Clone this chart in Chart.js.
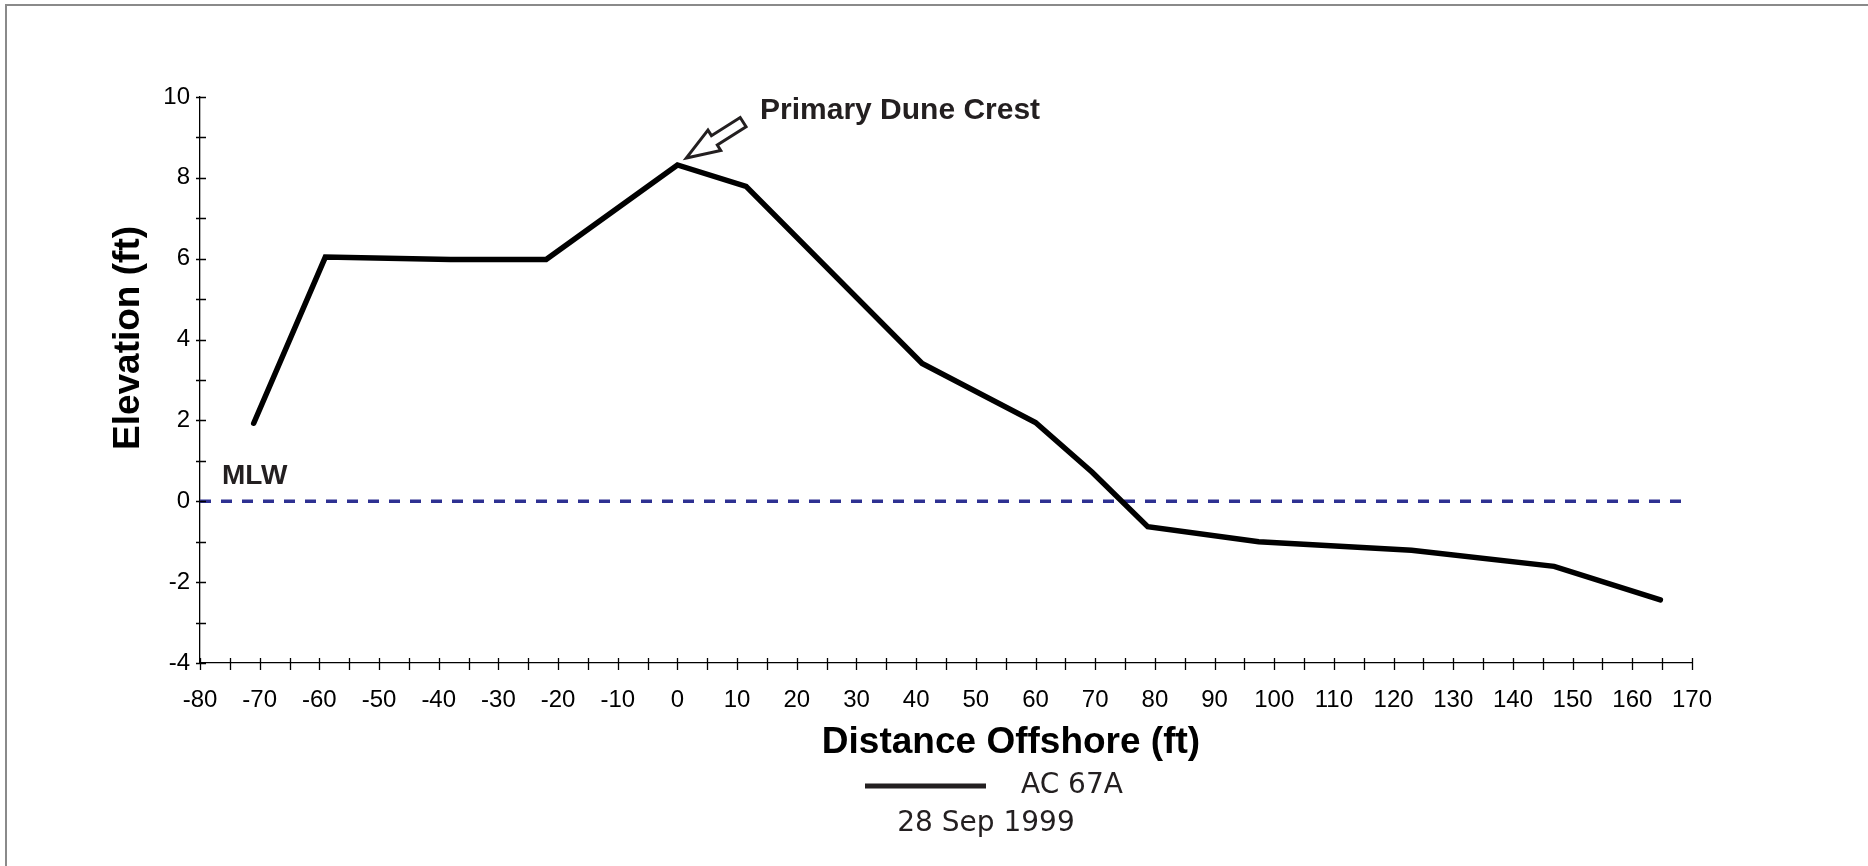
<!DOCTYPE html>
<html>
<head>
<meta charset="utf-8">
<script src="https://cdn.jsdelivr.net/npm/chart.js@4.4.1/dist/chart.umd.min.js"></script>
<style>
  html, body { margin: 0; padding: 0; background: #fff; overflow: hidden; }
  #wrap { width: 1868px; height: 866px; }
</style>
</head>
<body>
<div id="wrap"><canvas id="profileChart" width="1868" height="866"></canvas></div>
<script>
'use strict';

// profile AC 67A, 28 Sep 1999
const distance = [-71, -59, -38, -22, 0, 11.5, 41, 60, 69.5, 78.8, 97.4, 123, 146.9, 164.7]
const elevation = [1.93, 6.04, 5.98, 5.98, 8.32, 7.79, 3.41, 1.95, 0.72, -0.63, -1.0, -1.21, -1.61, -2.44]

// mean low water line
const mlwDistance = [-80, 169]
const mlwElevation = [0, 0]

const xRange = [-80, 170]
const yRange = [-4, 10]
const crestIndex = 4

const ink = '#231f20'
const font = '"Liberation Sans", Arial, sans-serif'
const thinFont = '"DejaVu Sans", sans-serif'

const toPoints = (xs, ys) => xs.map((v, k) => ({ x: v, y: ys[k] }))

// frame, tick marks, labels and the crest arrow
const overlay = {
    id: 'overlay',
    beforeDraw(chart) {
        const ctx = chart.ctx
        ctx.save()
        ctx.fillStyle = '#fff'
        ctx.fillRect(0, 0, chart.width, chart.height)
        ctx.strokeStyle = '#8a8a8a'
        ctx.lineWidth = 2
        ctx.beginPath()
        ctx.moveTo(6, chart.height)
        ctx.lineTo(6, 5)
        ctx.lineTo(chart.width, 5)
        ctx.stroke()
        ctx.restore()
    },
    afterDraw(chart) {
        const { ctx, scales: { x, y } } = chart
        ctx.save()

        // ticks crossing the axes
        ctx.strokeStyle = '#000'
        ctx.lineWidth = 1.3
        ctx.beginPath()
        for (let v = xRange[0]; v <= xRange[1]; v += 5) {
            const px = Math.round(x.getPixelForValue(v)) + 0.5
            ctx.moveTo(px, y.bottom - 5)
            ctx.lineTo(px, y.bottom + 7)
        }
        for (let v = yRange[0]; v <= yRange[1]; v += 1) {
            const py = Math.round(y.getPixelForValue(v)) + 0.5
            ctx.moveTo(x.left - 4, py)
            ctx.lineTo(x.left + 6, py)
        }
        ctx.stroke()

        // axis titles
        ctx.fillStyle = '#000'
        ctx.font = `bold 37px ${font}`
        ctx.textAlign = 'center'
        ctx.textBaseline = 'middle'
        ctx.fillText('Distance Offshore (ft)', 1011, 743)
        ctx.save()
        ctx.translate(129, 338)
        ctx.rotate(-Math.PI / 2)
        ctx.fillText('Elevation (ft)', 0, 0)
        ctx.restore()

        // MLW label
        ctx.fillStyle = ink
        ctx.font = `bold 28px ${font}`
        ctx.textAlign = 'left'
        ctx.fillText('MLW', 222, 476)

        // crest label + hollow arrow pointing at the crest point
        ctx.font = `bold 30px ${font}`
        ctx.fillText('Primary Dune Crest', 760, 111)

        const tx = x.getPixelForValue(distance[crestIndex]) + 9
        const ty = y.getPixelForValue(elevation[crestIndex]) - 7
        const ux = 0.846, uy = -0.534
        const nx = 0.534, ny = 0.846
        const headLen = 33, headW = 12, shaftW = 5.5, len = 67
        const bx = tx + ux * headLen, by = ty + uy * headLen
        const ex = tx + ux * len, ey = ty + uy * len
        ctx.beginPath()
        ctx.moveTo(tx, ty)
        ctx.lineTo(bx + nx * headW, by + ny * headW)
        ctx.lineTo(bx + nx * shaftW, by + ny * shaftW)
        ctx.lineTo(ex + nx * shaftW, ey + ny * shaftW)
        ctx.lineTo(ex - nx * shaftW, ey - ny * shaftW)
        ctx.lineTo(bx - nx * shaftW, by - ny * shaftW)
        ctx.lineTo(bx - nx * headW, by - ny * headW)
        ctx.closePath()
        ctx.fillStyle = '#fff'
        ctx.fill()
        ctx.strokeStyle = ink
        ctx.lineWidth = 3
        ctx.lineJoin = 'miter'
        ctx.stroke()

        // legend
        ctx.strokeStyle = ink
        ctx.lineWidth = 5
        ctx.beginPath()
        ctx.moveTo(865, 786)
        ctx.lineTo(986, 786)
        ctx.stroke()
        ctx.fillStyle = ink
        ctx.font = `28px ${thinFont}`
        ctx.textAlign = 'left'
        ctx.fillText('AC 67A', 1021, 786)
        ctx.textAlign = 'center'
        ctx.fillText('28 Sep 1999', 986, 824)

        ctx.restore()
    }
}

new Chart(document.getElementById('profileChart'), {
    type: 'line',
    data: {
        datasets: [{
            label: 'AC 67A',
            data: toPoints(distance, elevation),
            borderColor: '#000',
            borderWidth: 5.5,
            borderCapStyle: 'round',
            borderJoinStyle: 'miter',
            pointRadius: 0,
            tension: 0,
            order: 0
        }, {
            label: 'MLW',
            data: toPoints(mlwDistance, mlwElevation),
            borderColor: '#2e3192',
            borderWidth: 3.5,
            borderDash: [11, 10],
            pointRadius: 0,
            tension: 0,
            order: 1
        }]
    },
    options: {
        responsive: false,
        animation: false,
        events: [],
        layout: { padding: { left: 0, top: 97, right: 176, bottom: 0 } },
        plugins: { legend: { display: false }, tooltip: { enabled: false } },
        scales: {
            x: {
                type: 'linear',
                min: xRange[0],
                max: xRange[1],
                grid: { display: false, drawTicks: false },
                border: { display: true, color: '#000', width: 1.3 },
                ticks: {
                    stepSize: 10,
                    autoSkip: false,
                    maxRotation: 0,
                    minRotation: 0,
                    padding: 23,
                    color: '#000',
                    font: { family: font, size: 24 }
                },
                afterFit: (scale) => { scale.height = 203 }
            },
            y: {
                type: 'linear',
                min: yRange[0],
                max: yRange[1],
                grid: { display: false, drawTicks: false },
                border: { display: true, color: '#000', width: 1.3 },
                ticks: {
                    stepSize: 2,
                    padding: 10,
                    color: '#000',
                    font: { family: font, size: 24 }
                },
                afterFit: (scale) => { scale.width = 200 }
            }
        }
    },
    plugins: [overlay]
})
</script>
</body>
</html>
